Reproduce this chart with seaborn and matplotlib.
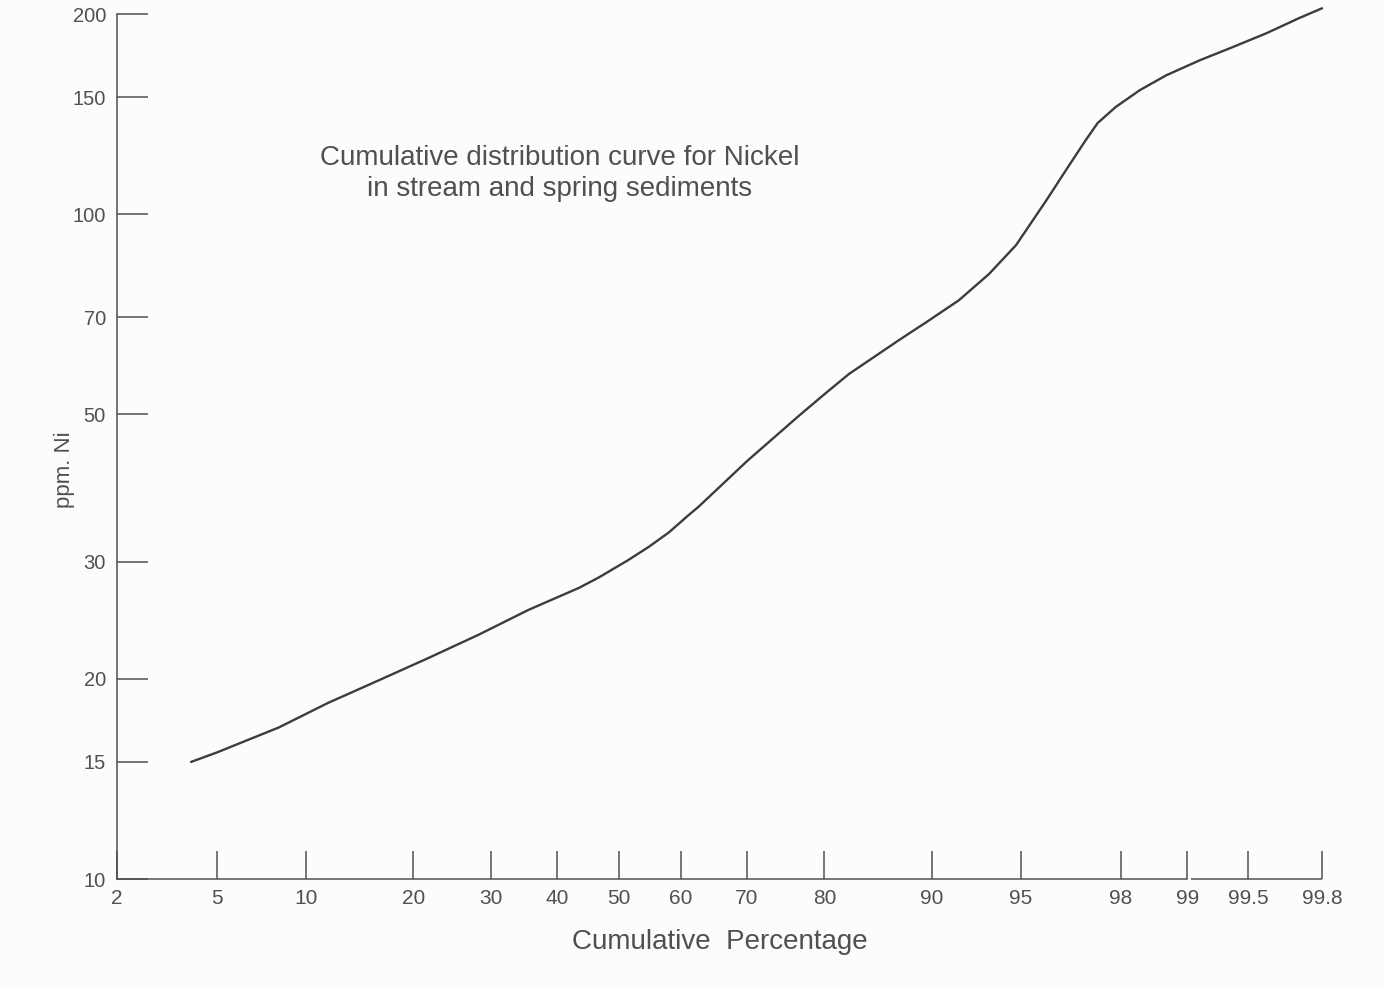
import math
import numpy as np
import pandas as pd
import seaborn as sns
import matplotlib
matplotlib.use("Agg")
import matplotlib.pyplot as plt
from matplotlib.ticker import NullLocator, FixedLocator, FixedFormatter

# curve: cumulative percentage vs ppm Ni
pct = [4.0, 5.0, 8.2, 11.7, 16.3, 21.8, 28.3, 35.6, 43.5, 46.7, 51.6,
       54.9, 58.1, 61.3, 62.8, 70.0, 77.0, 80.0, 82.7, 87.4, 89.6, 91.8,
       93.5, 94.8, 96.0, 96.7, 97.2, 97.5, 97.9, 98.35, 98.75, 99.13,
       99.4, 99.6, 99.73, 99.8]
ppm = [15.0, 15.5, 16.9, 18.4, 19.9, 21.5, 23.3, 25.4, 27.4, 28.4, 30.2,
       31.6, 33.2, 35.3, 36.3, 42.5, 49.8, 53.6, 57.5, 64.6, 68.8, 74.2,
       81.2, 89.8, 105.0, 117.7, 129.2, 137.1, 144.9, 153.6, 161.8, 170.4,
       178.3, 187.2, 197.0, 204.0]

xticks = [2, 5, 10, 20, 30, 40, 50, 60, 70, 80, 90, 95, 98, 99, 99.5, 99.8]
xtick_labels = ["2", "5", "10", "20", "30", "40", "50", "60", "70", "80",
                "90", "95", "98", "99", "99.5", "99.8"]
yticks = [10, 15, 20, 30, 50, 70, 100, 150, 200]
ytick_labels = ["10", "15", "20", "30", "50", "70", "100", "150", "200"]

df = pd.DataFrame({"pct": pct, "ppm": ppm})

# normal probability scale for the x axis
_zg = np.linspace(-6, 6, 6001)
_cg = 0.5 * (1 + np.array([math.erf(z / math.sqrt(2)) for z in _zg]))


def to_z(p):
    return np.interp(np.asarray(p, float) / 100.0, _cg, _zg)


def from_z(z):
    return 100.0 * np.interp(np.asarray(z, float), _zg, _cg)


sns.set_theme(style="white")
plt.rcParams["font.family"] = ["Liberation Sans", "DejaVu Sans"]
ink = "#505050"

fig = plt.figure(figsize=(13.84, 9.9), dpi=100, facecolor="#fcfcfa")
ax = fig.add_axes([117 / 1384, 1 - 879 / 990, 1205 / 1384, 865 / 990])
ax.set_facecolor("#fcfcfa")

sns.lineplot(data=df, x="pct", y="ppm", ax=ax, color="#3c3c3c",
             linewidth=1.7, estimator=None, sort=False)
ax.lines[0].set_clip_on(False)
ax.lines[0].set_solid_joinstyle("round")

ax.set_xscale("function", functions=(to_z, from_z))
ax.set_yscale("log")
ax.set_xlim(2, 99.8)
ax.set_ylim(10, 200)

ax.xaxis.set_major_locator(FixedLocator(xticks))
ax.xaxis.set_major_formatter(FixedFormatter(xtick_labels))
ax.yaxis.set_major_locator(FixedLocator(yticks))
ax.yaxis.set_major_formatter(FixedFormatter(ytick_labels))
ax.xaxis.set_minor_locator(NullLocator())
ax.yaxis.set_minor_locator(NullLocator())

ax.tick_params(axis="x", direction="in", length=20, width=1.1, color=ink,
               labelsize=15, labelcolor=ink, pad=7, bottom=True)
ax.tick_params(axis="y", direction="in", length=22, width=1.1, color=ink,
               labelsize=14.5, labelcolor=ink, pad=8, left=True)

for side in ["top", "right"]:
    ax.spines[side].set_visible(False)
for side in ["left", "bottom"]:
    ax.spines[side].set_color(ink)
    ax.spines[side].set_linewidth(1.1)
# bottom axis is broken just after 99
ax.spines["bottom"].set_bounds(2, 99)
ax.hlines(10, 99.04, 99.8, color=ink, linewidth=1.1, clip_on=False)

ax.set_xlabel("Cumulative  Percentage", fontsize=20, color=ink)
ax.xaxis.set_label_coords(0.5, -0.058)
ax.set_ylabel("ppm. Ni", fontsize=16, color=ink)
ax.yaxis.set_label_coords(-0.035, 0.473)

ax.text(0.3676, 0.8155,
        "Cumulative distribution curve for Nickel\nin stream and spring sediments",
        transform=ax.transAxes, ha="center", va="center", ma="center",
        fontsize=20, color=ink, linespacing=1.27)

fig.savefig("out.png", dpi=100, facecolor=fig.get_facecolor())
